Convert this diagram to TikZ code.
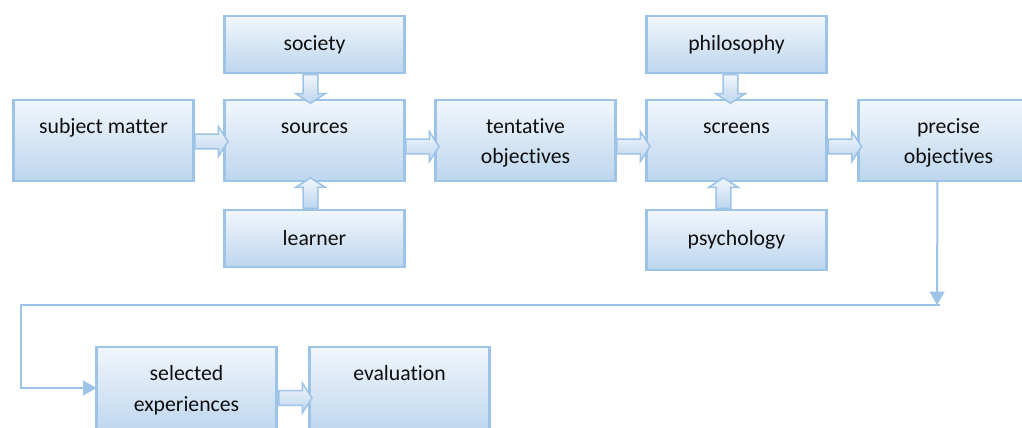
\documentclass[tikz,border=0pt]{standalone}
\usepackage{fontspec}
\setmainfont[Ligatures=NoCommon]{Carlito}
\usetikzlibrary{arrows.meta,positioning,shapes.arrows,calc}
\usepackage{xcolor}
\definecolor{boxline}{RGB}{157,195,230}
\definecolor{boxtop}{RGB}{241,246,252}
\definecolor{boxbot}{RGB}{189,214,238}
\definecolor{inktext}{RGB}{15,15,15}

\begin{document}
\begin{tikzpicture}[x=0.75pt,y=-0.75pt,
	box/.style={draw=boxline,line width=2pt,top color=boxtop,bottom color=boxbot,outer sep=0pt,
		minimum width=135pt,align=center,text=inktext,font=\fontsize{16.3}{23.25}\selectfont},
	tallbox/.style={box,inner ysep=0pt,text height=24.75pt,text depth=36pt},
	pairbox/.style={box,inner ysep=0pt,text height=48pt,text depth=12.75pt},
	flatbox/.style={box,minimum height=42.75pt},
	fatarr/.style={single arrow,draw=boxline,line width=1.2pt,top color=boxtop,bottom color=boxbot,
		inner xsep=0pt,inner ysep=4.9pt,single arrow head extend=5.6pt,single arrow tip angle=114,
		minimum height=#1},
	link/.style={draw=boxline,line width=1.5pt,-{Triangle[width=11pt,length=10pt]}}]
	\useasboundingbox (0,0) rectangle (1022,428);
	\node (subject) [tallbox] at (103.5,140.5) {subject matter};
	\node (sources) [tallbox,right=23.25pt of subject] {sources};
	\node (society) [flatbox,above=20.25pt of sources] {society};
	\node (learner) [flatbox,below=21.75pt of sources] {learner};
	\node (tentative) [pairbox,right=23.25pt of sources] {tentative\\objectives};
	\node (screens) [tallbox,right=23.25pt of tentative] {screens};
	\node (philosophy) [flatbox,above=20.25pt of screens] {philosophy};
	\node (psychology) [flatbox,below=21.75pt of screens,minimum height=45pt] {psychology};
	\node (precise) [pairbox,right=24pt of screens] {precise\\objectives};
	\node (selected) [pairbox,anchor=north,text depth=16.5pt] at (186.5,347) {selected\\experiences};
	\node (evaluation) [tallbox,text depth=39.75pt,right=24.75pt of selected] {evaluation};
	% fat arrows
	\path (subject) -- (sources) node [fatarr=25pt,midway,yshift=-0.75pt] (a1) {};
	\path (sources) -- (tentative) node [fatarr=25pt,midway,yshift=-4.5pt] (a2) {};
	\path (tentative) -- (screens) node [fatarr=25pt,midway,yshift=-4.5pt] (a3) {};
	\path (screens) -- (precise) node [fatarr=25pt,midway,yshift=-4.5pt] (a4) {};
	\path (selected) -- (evaluation) node [fatarr=25pt,midway,yshift=-6pt] (a5) {};
	\path (society) -- (sources) node [fatarr=21.5pt,midway,xshift=-3pt,rotate=-90] (a6) {};
	\path (learner) -- (sources) node [fatarr=23pt,midway,xshift=-3pt,rotate=90] (a7) {};
	\path (philosophy) -- (screens) node [fatarr=21.5pt,midway,xshift=-4.5pt,rotate=-90] (a8) {};
	\path (psychology) -- (screens) node [fatarr=23pt,midway,xshift=-9.75pt,rotate=90] (a9) {};
	% loop back to the bottom row
	\coordinate (bend) at (937,305);
	\coordinate (corner) at (21,305);
	\draw [link] ([xshift=-8.25pt]precise.south) -- (bend);
	\draw [link] ([xshift=2pt]bend) -- (corner) |- ([yshift=1.5pt]selected.west);
\end{tikzpicture}
\end{document}
